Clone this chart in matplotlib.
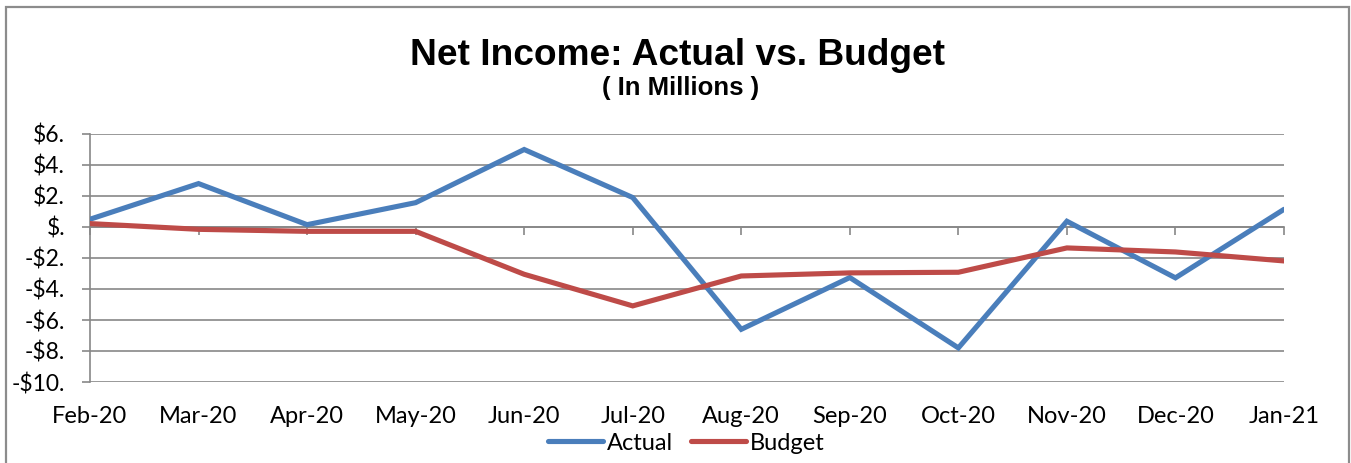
import matplotlib
matplotlib.use("Agg")
import matplotlib.pyplot as plt
from matplotlib.patches import Rectangle

# Monthly net income, in millions of dollars
months = ["Feb-20", "Mar-20", "Apr-20", "May-20", "Jun-20", "Jul-20",
          "Aug-20", "Sep-20", "Oct-20", "Nov-20", "Dec-20", "Jan-21"]
actual = [0.50, 2.80, 0.15, 1.57, 5.00, 1.90, -6.60, -3.26, -7.80, 0.37, -3.28, 1.14]
budget = [0.22, -0.15, -0.28, -0.28, -3.05, -5.09, -3.16, -2.96, -2.92, -1.35, -1.61, -2.19]

y_ticks = [6, 4, 2, 0, -2, -4, -6, -8, -10]
y_tick_labels = ["$6.", "$4.", "$2.", "$.", "-$2.", "-$4.", "-$6.", "-$8.", "-$10."]

BLUE = "#4A7EBB"
RED = "#BE4B48"
GRID = "#878787"
W, H = 1351, 463
DPI = 100

fig = plt.figure(figsize=(W / DPI, H / DPI), dpi=DPI)
fig.patch.set_facecolor("white")

# chart border
fig.patches.append(Rectangle((6 / W, -0.05), (1349 - 6) / W, 1.05 - 7 / H,
                             transform=fig.transFigure, fill=False,
                             edgecolor="#8C8C8C", linewidth=1.6))

left, right = 90 / W, 1284 / W
top, bottom = 1 - 134 / H, 1 - 382 / H
ax = fig.add_axes([left, bottom, right - left, top - bottom])

x = list(range(len(months)))
ax.plot(x, actual, color=BLUE, linewidth=3.7, solid_capstyle="round",
        solid_joinstyle="miter", label="Actual", zorder=3)
ax.plot(x, budget, color=RED, linewidth=3.7, solid_capstyle="round",
        solid_joinstyle="miter", label="Budget", zorder=3)

ax.set_xlim(0, len(months) - 1)
ax.set_ylim(-10, 6)

ax.set_yticks(y_ticks)
ax.set_yticklabels(y_tick_labels, fontname="Lato", fontsize=16.5)
ax.yaxis.grid(True, color=GRID, linewidth=1.2)
ax.set_axisbelow(True)
ax.tick_params(axis="y", direction="out", length=6, width=1.2, color=GRID, pad=12)

for side in ("top", "right"):
    ax.spines[side].set_visible(False)
ax.spines["left"].set_color(GRID)
ax.spines["left"].set_linewidth(1.2)

# category axis crosses at zero; ticks hang below it
ax.spines["bottom"].set_position(("data", 0))
ax.spines["bottom"].set_color(GRID)
ax.spines["bottom"].set_linewidth(1.2)
ax.set_xticks(x)
ax.tick_params(axis="x", direction="out", length=6, width=1.2, color=GRID,
               labelbottom=False)

# category labels sit below the plot area
sec = ax.secondary_xaxis("bottom")
sec.set_xticks(x)
sec.set_xticklabels(months, fontname="Lato", fontsize=17)
sec.tick_params(length=0, pad=17)
sec.spines["bottom"].set_visible(False)

fig.text(678 / W, 1 - 65 / H, "Net Income: Actual vs. Budget",
         ha="center", va="baseline", fontname="Liberation Sans",
         fontweight="bold", fontsize=26.7)
fig.text(681 / W, 1 - 95 / H, "( In Millions )",
         ha="center", va="baseline", fontname="Liberation Sans",
         fontweight="bold", fontsize=18.5)

fig.legend(loc="center", bbox_to_anchor=(686 / W, 1 - 443 / H), ncol=2,
           frameon=False, prop={"family": "Lato", "size": 17},
           handlelength=2.33, handletextpad=0.17, columnspacing=0.76,
           borderpad=0, borderaxespad=0)

fig.savefig("out.png", dpi=DPI)
